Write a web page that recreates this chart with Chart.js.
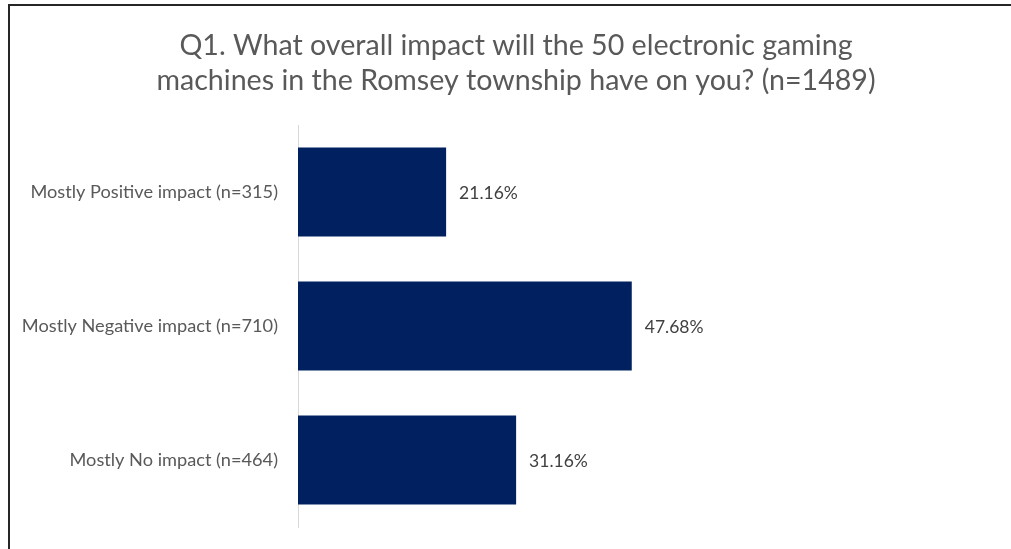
<!DOCTYPE html>
<html>
<head>
	<title>Q1 impact</title>
	<script src="https://cdn.jsdelivr.net/npm/chart.js@4"></script>
<style>
	body { margin: 0; background: #fff; overflow: hidden; }
	#frame {
		position: absolute; left: 8px; top: 4px; width: 1003px; height: 545px;
		border-top: 2px solid #262626; border-left: 2px solid #262626;
	}
	#wrap { width: 1001px; height: 543px; }
</style>
</head>
<body>
<div id="frame">
	<div id="wrap"><canvas id="chart"></canvas></div>
</div>

<script lang="text/javascript">
var titleLines = ['Q1. What overall impact will the 50 electronic gaming', 'machines in the Romsey township have on you? (n=1489)'];
var categories = ['Mostly Positive impact (n=315)', 'Mostly Negative impact (n=710)', 'Mostly No impact (n=464)'];
var percents = [21.16, 47.68, 31.16];

var fontName = 'Lato';

// title is drawn by hand so it can sit a little right of the canvas centre
var titleText = {
	id : 'titleText',
	afterDraw : function(chart) {
		var ctx = chart.ctx;
		ctx.save();
		ctx.font = '28.6px ' + fontName;
		ctx.fillStyle = '#595959';
		ctx.textAlign = 'center';
		ctx.textBaseline = 'middle';
		ctx.fillText(titleLines[0], 506, 40);
		ctx.fillText(titleLines[1], 506, 75);
		ctx.restore();
	}
};

// draws the "21.16%" labels just past the end of each bar
var valueLabels = {
	id : 'valueLabels',
	afterDatasetsDraw : function(chart) {
		var ctx = chart.ctx;
		var meta = chart.getDatasetMeta(0);
		ctx.save();
		ctx.font = '17.5px ' + fontName;
		ctx.fillStyle = '#404040';
		ctx.textAlign = 'left';
		ctx.textBaseline = 'middle';
		meta.data.forEach(function(bar, i) {
			ctx.fillText(percents[i].toFixed(2) + '%', bar.x + 13, bar.y + 1);
		});
		ctx.restore();
	}
};

var ctx = document.getElementById('chart');
var chart = new Chart(ctx, {
	type : 'bar',
	data : {
		labels : categories,
		datasets : [{
			data : percents,
			backgroundColor : '#002060',
			borderWidth : 0,
			categoryPercentage : 1,
			barPercentage : 0.664
		}]
	},
	options : {
		indexAxis : 'y',
		responsive : true,
		maintainAspectRatio : false,
		animation : false,
		layout : {
			padding : { left : 0, right : 13, top : 119, bottom : 22 }
		},
		plugins : {
			legend : { display : false },
			tooltip : { enabled : false },
			title : { display : false }
		},
		scales : {
			x : {
				display : false,
				min : 0,
				max : 100
			},
			y : {
				afterFit : function(scale) {
					scale.width = 288;
					scale.paddingTop = 0;
					scale.paddingBottom = 0;
				},
				grid : { display : false, drawTicks : false },
				border : { display : true, color : '#d9d9d9', width : 1 },
				ticks : {
					color : '#595959',
					padding : 20,
					font : { family : fontName, size : 18.2 }
				}
			}
		}
	},
	plugins : [valueLabels, titleText]
});
</script>
</body>
</html>
